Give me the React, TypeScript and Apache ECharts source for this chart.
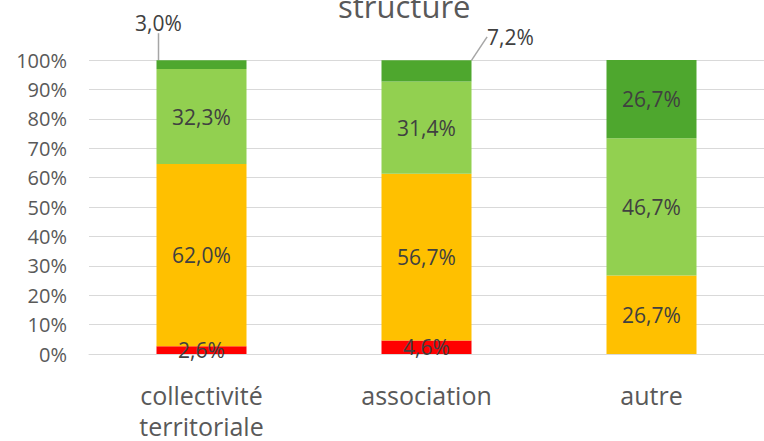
import React, { useEffect, useRef } from "react";
import * as echarts from "echarts";

const categories = ["collectivité\nterritoriale", "association", "autre"];
const redValues = [2.6, 4.6, 0];
const orangeValues = [62.0, 56.7, 26.7];
const lightGreenValues = [32.3, 31.4, 46.7];
const darkGreenValues = [3.0, 7.2, 26.7];
const yTicks = { min: 0, max: 100, interval: 10 };
const title = "structure";

const fmt = (v: number) => v.toFixed(1).replace(".", ",") + "%";
const FONT = "'Open Sans', 'Noto Sans', sans-serif";

export default function App() {
  const ref = useRef<HTMLDivElement>(null);
  useEffect(() => {
    if (!ref.current) return;
    const chart = echarts.init(ref.current, undefined, { renderer: "svg" });
    const labelBase = {
      show: true,
      color: "#404040",
      fontSize: 21,
      fontFamily: FONT,
      formatter: (p: any) => (p.value > 0 ? fmt(p.value) : ""),
    };
    const mk = (name: string, data: number[], color: string, extra: any = {}) => ({
      name,
      type: "bar",
      stack: "s",
      barWidth: "40%",
      data,
      itemStyle: { color },
      label: { ...labelBase, position: "inside" },
      ...extra,
    });
    chart.setOption({
      animation: false,
      title: {
        text: title,
        left: 333,
        top: -15,
        textStyle: { color: "#595959", fontSize: 31, fontWeight: "normal", fontFamily: FONT },
      },
      grid: { left: 89, right: -8, top: 60, bottom: 86, containLabel: false },
      xAxis: {
        type: "category",
        data: categories,
        axisLine: { show: true, lineStyle: { color: "#d9d9d9" } },
        axisTick: { show: false },
        axisLabel: { color: "#595959", fontSize: 25, fontFamily: FONT, margin: 25, lineHeight: 31 },
      },
      yAxis: {
        type: "value",
        min: yTicks.min,
        max: yTicks.max,
        interval: yTicks.interval,
        axisLabel: { formatter: "{value}%", color: "#595959", fontSize: 20, fontFamily: FONT, margin: 22 },
        splitLine: { lineStyle: { color: "#d9d9d9" } },
        axisLine: { show: false },
        axisTick: { show: false },
      },
      series: [
        mk("rouge", redValues, "#ff0000"),
        mk("orange", orangeValues, "#ffc000"),
        mk("vert clair", lightGreenValues, "#92d050"),
        mk("vert", darkGreenValues, "#4ea72e", {
          labelLine: { show: true, lineStyle: { color: "#a6a6a6", width: 1.5 } },
          labelLayout: (p: any) => {
            if (p.dataIndex === 0) return { dx: -43, dy: -42 };
            if (p.dataIndex === 1) return { dx: 84, dy: -34 };
            return {};
          },
        }),
      ],
    });
    return () => chart.dispose();
  }, []);
  return (
    <div
      ref={ref}
      style={{ position: "fixed", left: 0, top: 0, width: 764, height: 441, background: "#fff" }}
    />
  );
}
